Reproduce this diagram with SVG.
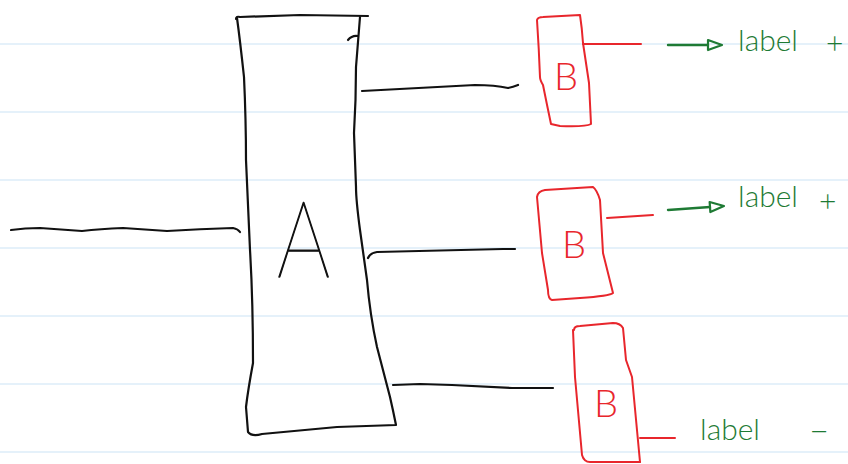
<svg xmlns="http://www.w3.org/2000/svg" width="848" height="464" viewBox="0 0 848 464">
  <style>
    .rule { stroke: #dcecf9; stroke-width: 1.5; }
    .ink { fill: none; stroke: #111; stroke-width: 2.2; stroke-linecap: round; stroke-linejoin: round; }
    .red { fill: none; stroke: #e8262c; stroke-width: 2; stroke-linecap: round; stroke-linejoin: round; }
    .grn { fill: none; stroke: #1e7a34; stroke-width: 2.4; stroke-linecap: round; stroke-linejoin: round; }
    .hand { font-family: Lato, Roboto, "DejaVu Sans", sans-serif; }
    .tA { fill: #111; stroke: #111; stroke-width: 1.3; stroke-linejoin: round; font-size: 107px; font-weight: 200; }
    .tB { fill: #e8262c; font-size: 38px; font-weight: 300; }
    .tL { fill: #1e7a34; font-size: 30px; font-weight: 300; }
  </style>
  <defs>
    <marker id="openTri" viewBox="0 0 18 14" refX="2" refY="7" markerWidth="18" markerHeight="14" markerUnits="userSpaceOnUse" orient="auto">
      <path d="M2,2 L16,7 L2,12 Z" fill="none" stroke="#1e7a34" stroke-width="2.2" stroke-linejoin="round"/>
    </marker>
  </defs>

  <rect width="848" height="464" fill="#ffffff"/>

  <!-- ruled paper -->
  <g id="paper">
    <line class="rule" x1="0" y1="44" x2="848" y2="44"/>
    <line class="rule" x1="0" y1="112" x2="848" y2="112"/>
    <line class="rule" x1="0" y1="180" x2="848" y2="180"/>
    <line class="rule" x1="0" y1="248" x2="848" y2="248"/>
    <line class="rule" x1="0" y1="316" x2="848" y2="316"/>
    <line class="rule" x1="0" y1="384" x2="848" y2="384"/>
    <line class="rule" x1="0" y1="452" x2="848" y2="452"/>
  </g>

  <!-- block A -->
  <g id="nodeA">
    <path class="ink" d="M236,19 Q236,16 240,17 L300,15 L368,16"/>
    <path class="ink" d="M237,18 Q240,40 244,77 Q246,120 246,160 L250,250 Q253,300 253,363 Q248,390 246,407 L248,432 Q252,437 262,434 L337,427 L396,425 Q393,410 390,397 L377,347 Q370,315 367,280 L360,230 Q356,200 356,187 L354,133 Q356,100 356,67 L360,17"/>
    <path class="ink" d="M348,40 Q352,35 358,36"/>
    <text class="hand tA" transform="translate(277,277) scale(0.78,1)">A</text>
  </g>

  <!-- B boxes -->
  <g id="nodeB1">
    <path class="red" d="M537,20 Q538,17 543,17 L580,15 Q582,28 583,43 L589,83 L591,124 Q586,127 560,126 L551,124 Q547,105 543,85 Q540,80 540,77 Q539,50 537,20"/>
    <text class="hand tB" x="554" y="90">B</text>
  </g>
  <g id="nodeB2">
    <path class="red" d="M537,197 Q538,191 545,190 L593,187 Q597,190 600,200 L603,253 L613,293 Q610,296 580,298 L552,300 Q548,299 548,290 L542,253 L537,197"/>
    <text class="hand tB" x="562" y="258">B</text>
  </g>
  <g id="nodeB3">
    <path class="red" d="M574,330 Q574,326 580,326 L613,323 Q620,323 623,328 L626,360 L632,377 L640,462"/>
    <path class="red" d="M573,330 L575,377 L582,455 Q584,462 590,462 L640,462"/>
    <text class="hand tB" x="594" y="417">B</text>
  </g>

  <!-- output labels -->
  <g id="label1">
    <text class="hand tL" x="738" y="51">label</text>
    <text class="hand tL" x="826" y="54">+</text>
  </g>
  <g id="label2">
    <text class="hand tL" x="738" y="207">label</text>
    <text class="hand tL" x="819" y="212">+</text>
  </g>
  <g id="label3">
    <text class="hand tL" x="700" y="440">label</text>
    <text class="hand tL" transform="translate(808,440) scale(2,1)">-</text>
  </g>

  <g id="connectors">
    <!-- input into A -->
    <path class="ink" d="M11,230 Q25,228 40,228 L82,231 Q100,229 123,228 L167,231 Q200,229 233,228 Q238,229 240,232"/>
    <!-- A to the B boxes -->
    <path class="ink" d="M362,91 Q420,88 475,85 Q495,85 508,88 Q513,87 518,85"/>
    <path class="ink" d="M368,258 Q370,253 377,252 L503,249 L515,249"/>
    <path class="ink" d="M393,385 L420,384 L452,385 L512,388 L553,388"/>
    <!-- B outputs -->
    <path class="red" d="M583,44 L641,44"/>
    <path class="red" d="M607,218 L653,215"/>
    <path class="red" d="M640,438 L675,438"/>
    <!-- arrows to the labels -->
    <path class="grn" d="M668,45 L708,45" marker-end="url(#openTri)"/>
    <path class="grn" d="M668,210 L710,207" marker-end="url(#openTri)"/>
  </g>
</svg>
